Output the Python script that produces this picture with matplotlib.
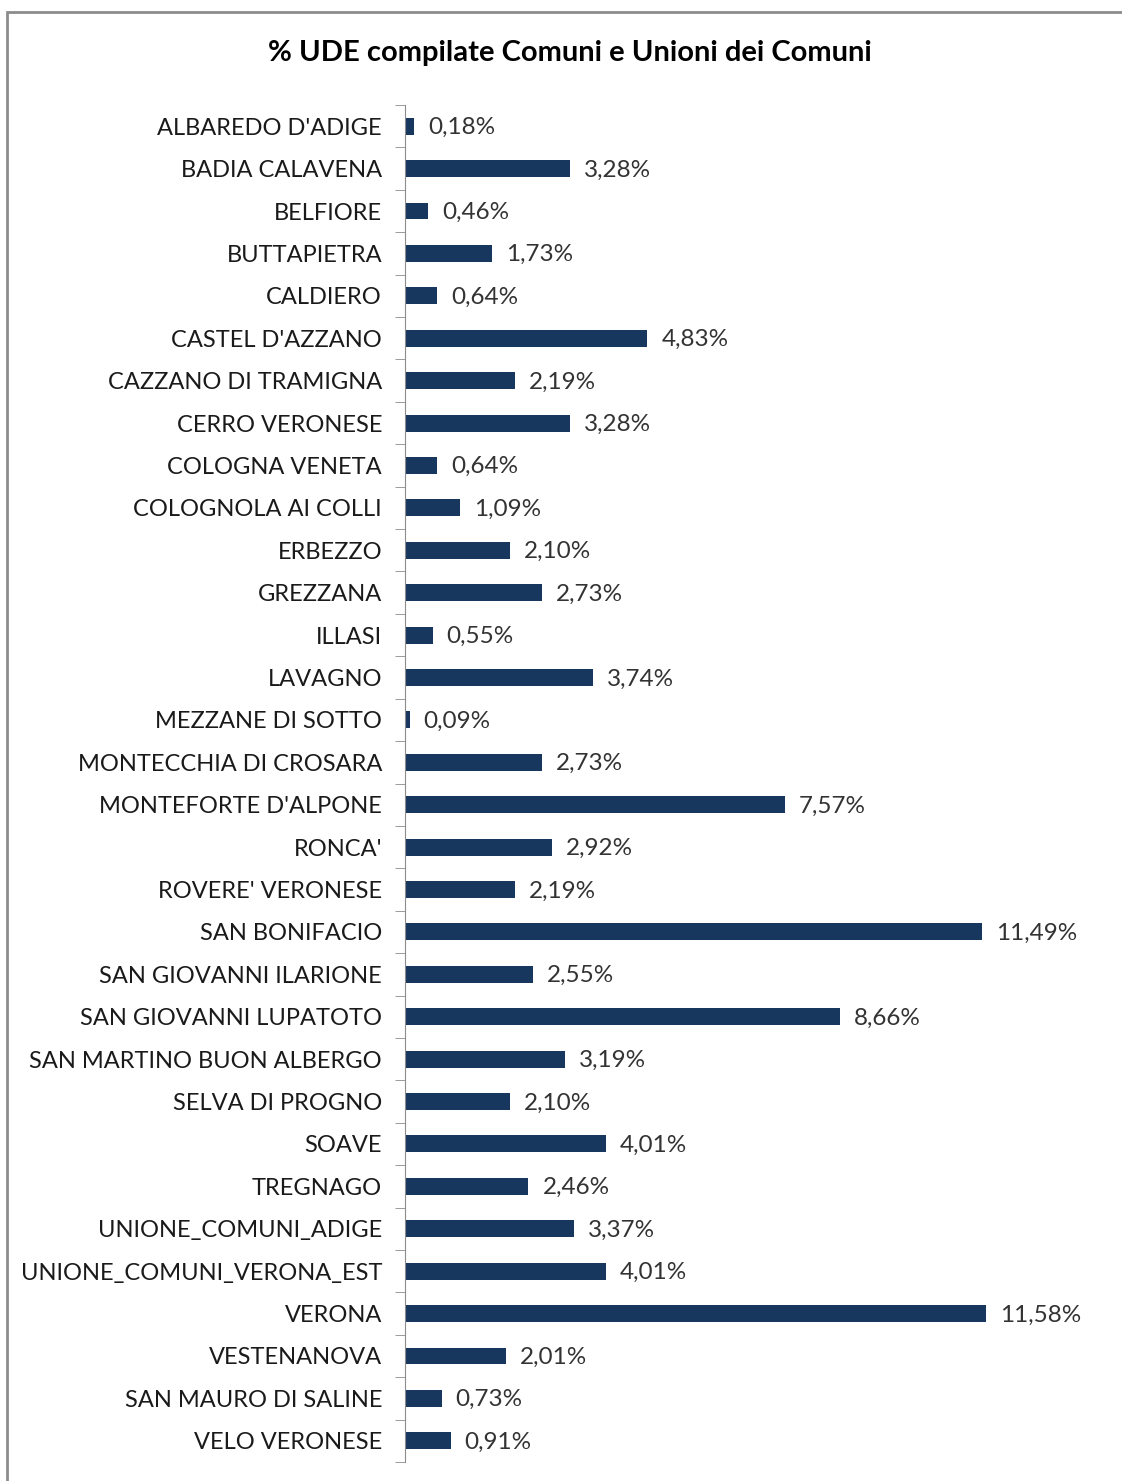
import matplotlib
matplotlib.use("Agg")
import matplotlib.pyplot as plt
from matplotlib.patches import Rectangle

comuni = ["ALBAREDO D'ADIGE", "BADIA CALAVENA", "BELFIORE", "BUTTAPIETRA", "CALDIERO",
          "CASTEL D'AZZANO", "CAZZANO DI TRAMIGNA", "CERRO VERONESE", "COLOGNA VENETA",
          "COLOGNOLA AI COLLI", "ERBEZZO", "GREZZANA", "ILLASI", "LAVAGNO",
          "MEZZANE DI SOTTO", "MONTECCHIA DI CROSARA", "MONTEFORTE D'ALPONE", "RONCA'",
          "ROVERE' VERONESE", "SAN BONIFACIO", "SAN GIOVANNI ILARIONE",
          "SAN GIOVANNI LUPATOTO", "SAN MARTINO BUON ALBERGO", "SELVA DI PROGNO", "SOAVE",
          "TREGNAGO", "UNIONE_COMUNI_ADIGE", "UNIONE_COMUNI_VERONA_EST", "VERONA",
          "VESTENANOVA", "SAN MAURO DI SALINE", "VELO VERONESE"]
percentuali = [0.18, 3.28, 0.46, 1.73, 0.64, 4.83, 2.19, 3.28, 0.64, 1.09, 2.10, 2.73, 0.55,
               3.74, 0.09, 2.73, 7.57, 2.92, 2.19, 11.49, 2.55, 8.66, 3.19, 2.10, 4.01, 2.46,
               3.37, 4.01, 11.58, 2.01, 0.73, 0.91]

plt.rcParams['font.family'] = ['Lato', 'DejaVu Sans']

fig = plt.figure(figsize=(11.22, 14.81), dpi=100)

# cornice grigia del grafico
fig.patches.append(Rectangle((7 / 1122, -0.05), 1.1, 1 - 12 / 1481 + 0.05,
                             transform=fig.transFigure, fill=False,
                             edgecolor="#8c8c8c", linewidth=2))

ax = fig.add_axes([405 / 1122, 1 - 1462 / 1481, (1100 - 405) / 1122, (1462 - 105) / 1481])

pos = list(range(len(comuni)))
ax.barh(pos, percentuali, height=0.4, color="#17375E")
ax.set_ylim(len(comuni) - 0.5, -0.5)
ax.set_xlim(0, (1100 - 405) / 50.2)

ax.set_yticks(pos)
ax.set_yticklabels(comuni, fontsize=17, color="#1a1a1a")
ax.tick_params(axis="y", which="major", length=0, pad=16.5)
ax.set_yticks([p + 0.5 for p in [-1] + pos], minor=True)
ax.tick_params(axis="y", which="minor", length=7, color="#8c8c8c")

for s in ["top", "right", "bottom"]:
    ax.spines[s].set_visible(False)
ax.spines["left"].set_color("#8c8c8c")
ax.set_xticks([])

for p, v in zip(pos, percentuali):
    ax.annotate(f"{v:.2f}%".replace(".", ","), (v, p), xytext=(10, -1),
                textcoords="offset points", va="center", ha="left",
                fontsize=17.5, color="#333333")

fig.text(570 / 1122, 1 - 53 / 1481, "% UDE compilate Comuni e Unioni dei Comuni",
         ha="center", va="center", fontsize=21, fontweight="bold")

fig.savefig("out.png", dpi=100)
